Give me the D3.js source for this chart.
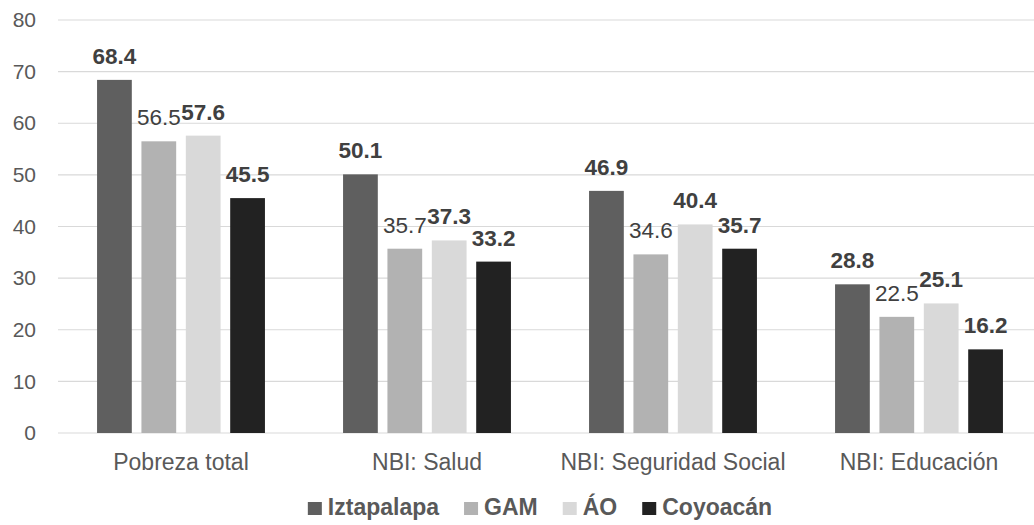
<!DOCTYPE html>
<html>
<head>
<meta charset="utf-8">
<script src="https://cdn.jsdelivr.net/npm/d3@7"></script>
<style>
  body { margin: 0; background: #fff; }
  text { font-family: "Liberation Sans", Arial, sans-serif; }
</style>
</head>
<body>
<script>
// categories and series
var categories = ["Pobreza total", "NBI: Salud", "NBI: Seguridad Social", "NBI: Educación"];
var series = ["Iztapalapa", "GAM", "ÁO", "Coyoacán"];
var iztapalapa = [68.4, 50.1, 46.9, 28.8];
var gam = [56.5, 35.7, 34.6, 22.5];
var ao = [57.6, 37.3, 40.4, 25.1];
var coyoacan = [45.5, 33.2, 35.7, 16.2];
var yTicks = [0, 10, 20, 30, 40, 50, 60, 70, 80];

var values = [iztapalapa, gam, ao, coyoacan];
var colors = ["#5f5f5f", "#b2b2b2", "#d9d9d9", "#222222"];
var boldLabel = [true, false, true, true];

var width = 1034;
var height = 525;
var margin = {top: 20, left: 58, right: -8, bottom: 92};

var svg = d3.select("body")
  .append("svg")
  .attr("width", width)
  .attr("height", height);

var xScale = d3.scaleBand()
  .domain(categories)
  .range([margin.left, width - margin.right]);

var xSub = d3.scaleBand()
  .domain(series)
  .range([0, xScale.bandwidth()])
  .paddingInner(0.217)
  .paddingOuter(0.88);

var yScale = d3.scaleLinear()
  .domain([0, 80])
  .range([height - margin.bottom, margin.top]);

// gridlines
svg.append("g")
  .selectAll("line")
  .data(yTicks)
  .join("line")
  .attr("x1", margin.left)
  .attr("x2", width)
  .attr("y1", d => yScale(d))
  .attr("y2", d => yScale(d))
  .attr("stroke", "#d9d9d9")
  .attr("stroke-width", 1.2);

// y axis labels
var yAxis = svg.append("g")
  .attr("transform", `translate(${margin.left - 22},0)`)
  .call(d3.axisLeft(yScale).tickValues(yTicks).tickSize(0).tickPadding(0));
yAxis.select(".domain").remove();
yAxis.selectAll("text")
  .attr("font-size", "21px")
  .attr("font-family", "Liberation Sans, Arial, sans-serif")
  .attr("fill", "#595959");

// x axis labels
var xAxis = svg.append("g")
  .attr("transform", `translate(0,${height - margin.bottom})`)
  .call(d3.axisBottom(xScale).tickSize(0).tickPadding(21));
xAxis.select(".domain").remove();
xAxis.selectAll("text")
  .attr("font-size", "23px")
  .attr("font-family", "Liberation Sans, Arial, sans-serif")
  .attr("fill", "#595959");

// bars
var groups = svg.append("g")
  .selectAll("g")
  .data(series)
  .join("g")
  .attr("fill", (d, i) => colors[i]);

groups.selectAll("rect")
  .data((s, i) => categories.map((c, j) => ({cat: c, ser: s, v: values[i][j]})))
  .join("rect")
  .attr("x", d => xScale(d.cat) + xSub(d.ser))
  .attr("y", d => yScale(d.v))
  .attr("width", xSub.bandwidth())
  .attr("height", d => yScale(0) - yScale(d.v));

// data labels
groups.selectAll("text")
  .data((s, i) => categories.map((c, j) => ({cat: c, ser: s, v: values[i][j], b: boldLabel[i]})))
  .join("text")
  .attr("x", d => xScale(d.cat) + xSub(d.ser) + xSub.bandwidth() / 2)
  .attr("y", d => yScale(d.v) - 16)
  .attr("text-anchor", "middle")
  .attr("font-size", "22.5px")
  .attr("font-weight", d => d.b ? "bold" : "normal")
  .attr("fill", "#404040")
  .text(d => d.v.toFixed(1));

// legend
var legend = svg.append("g");
var x0 = 0;
series.forEach(function(s, i) {
  var item = legend.append("g").attr("transform", `translate(${x0},0)`);
  item.append("rect")
    .attr("x", 0)
    .attr("y", -13)
    .attr("width", 14)
    .attr("height", 13)
    .attr("fill", colors[i]);
  var t = item.append("text")
    .attr("x", 20)
    .attr("y", 0)
    .attr("font-size", "23px")
    .attr("font-weight", "bold")
    .attr("fill", "#595959")
    .text(s);
  x0 += 20 + t.node().getComputedTextLength() + 25;
});
var legendW = x0 - 25;
legend.attr("transform", `translate(${540 - legendW / 2},515)`);
</script>
</body>
</html>
